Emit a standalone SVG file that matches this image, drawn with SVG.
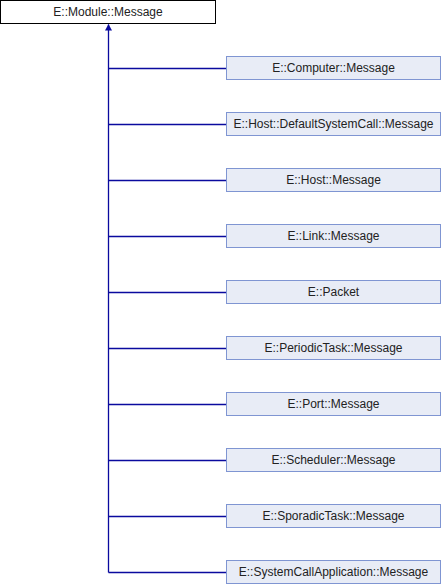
<svg xmlns="http://www.w3.org/2000/svg" width="442" height="584" viewBox="0 0 442 584">
<style>
.n rect{fill:#e8ecf6;stroke:#7f95d2;stroke-width:1}
.root rect{fill:#fff;stroke:#000;stroke-width:1}
text{font-family:"Liberation Sans",Arial,sans-serif;font-size:12px;fill:#222;text-anchor:middle}
.c{stroke:#0a0a9e;stroke-width:1.3;fill:none}
</style>
<defs>
<marker id="a" markerWidth="8" markerHeight="8" refX="6" refY="3.5" orient="auto" markerUnits="userSpaceOnUse" viewBox="0 0 8 8"><path d="M0,0 L6.5,3.5 L0,7 Z" fill="#0a0a9e"/></marker>
</defs>
<g id="connectors">
<path class="c" d="M108.5,572.5 V24.5" marker-end="url(#a)"/>
<path class="c" d="M108.5,68.5 H226"/>
<path class="c" d="M108.5,124.5 H226"/>
<path class="c" d="M108.5,180.5 H226"/>
<path class="c" d="M108.5,236.5 H226"/>
<path class="c" d="M108.5,292.5 H226"/>
<path class="c" d="M108.5,348.5 H226"/>
<path class="c" d="M108.5,404.5 H226"/>
<path class="c" d="M108.5,460.5 H226"/>
<path class="c" d="M108.5,516.5 H226"/>
<path class="c" d="M108.5,572.5 H226"/>
</g>
<g id="module_message" class="root"><rect x="0.5" y="0.5" width="215" height="23"/><text x="108" y="16">E::Module::Message</text></g>
<g id="computer_message" class="n"><rect x="226.5" y="56.5" width="214" height="23"/><text x="333.5" y="72">E::Computer::Message</text></g>
<g id="host_defaultsystemcall_message" class="n"><rect x="226.5" y="112.5" width="214" height="23"/><text x="333.5" y="128">E::Host::DefaultSystemCall::Message</text></g>
<g id="host_message" class="n"><rect x="226.5" y="168.5" width="214" height="23"/><text x="333.5" y="184">E::Host::Message</text></g>
<g id="link_message" class="n"><rect x="226.5" y="224.5" width="214" height="23"/><text x="333.5" y="240">E::Link::Message</text></g>
<g id="packet" class="n"><rect x="226.5" y="280.5" width="214" height="23"/><text x="333.5" y="296">E::Packet</text></g>
<g id="periodictask_message" class="n"><rect x="226.5" y="336.5" width="214" height="23"/><text x="333.5" y="352">E::PeriodicTask::Message</text></g>
<g id="port_message" class="n"><rect x="226.5" y="392.5" width="214" height="23"/><text x="333.5" y="408">E::Port::Message</text></g>
<g id="scheduler_message" class="n"><rect x="226.5" y="448.5" width="214" height="23"/><text x="333.5" y="464">E::Scheduler::Message</text></g>
<g id="sporadictask_message" class="n"><rect x="226.5" y="504.5" width="214" height="23"/><text x="333.5" y="520">E::SporadicTask::Message</text></g>
<g id="systemcallapplication_message" class="n"><rect x="226.5" y="560.5" width="214" height="23"/><text x="333.5" y="576">E::SystemCallApplication::Message</text></g>
</svg>
